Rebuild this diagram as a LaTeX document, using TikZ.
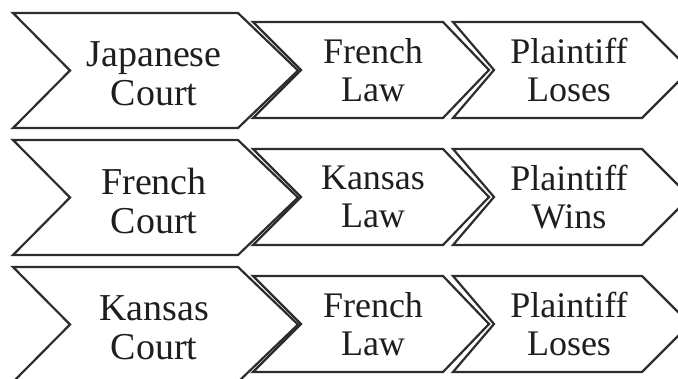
\documentclass[tikz,border=0pt]{standalone}
\usepackage{fontspec}
\setmainfont{Liberation Serif}
\usepackage{tikz}
\definecolor{dgrey}{RGB}{45,45,45}
\definecolor{tgrey}{RGB}{30,30,30}

\begin{document}
\begin{tikzpicture}[x=1pt,y=-1pt,line width=2.2pt,line join=miter]
      \tikzstyle{chevron}=[draw=dgrey,fill=white]
      \tikzstyle{bigtext}=[align=center,text=tgrey,inner sep=0pt,font=\fontsize{38}{39}\selectfont]
      \tikzstyle{smalltext}=[align=center,text=tgrey,inner sep=0pt,font=\fontsize{36}{38}\selectfont]

      \useasboundingbox (0,0) rectangle (678,378);
      \clip (0,0) rectangle (678,378);

      % row 1
      \draw[chevron] (253,22) -- (443,22) -- (489,70) -- (443,118) -- (253,118) -- (301,70) -- cycle;
      \draw[chevron] (453,22) -- (642,22) -- (690,70) -- (642,118) -- (453,118) -- (494,70) -- cycle;
      \draw[chevron] (13,13) -- (238,13) -- (298,70.5) -- (238,128) -- (13,128) -- (70,70.5) -- cycle;
      \node[bigtext]   (court1)  at (154,74) {Japanese\\Court};
      \node[smalltext] (law1)    at (373,70) {French\\Law};
      \node[smalltext] (result1) at (569,70) {Plaintiff\\Loses};

      % row 2
      \draw[chevron] (253,149) -- (443,149) -- (489,197) -- (443,245) -- (253,245) -- (301,197) -- cycle;
      \draw[chevron] (453,149) -- (642,149) -- (690,197) -- (642,245) -- (453,245) -- (494,197) -- cycle;
      \draw[chevron] (13,140) -- (238,140) -- (298,197.5) -- (238,255) -- (13,255) -- (70,197.5) -- cycle;
      \node[bigtext]   (court2)  at (154,201) {French\\Court};
      \node[smalltext] (law2)    at (373,197) {Kansas\\Law};
      \node[smalltext] (result2) at (569,197) {Plaintiff\\Wins};

      % row 3
      \draw[chevron] (253,276) -- (443,276) -- (489,324) -- (443,372) -- (253,372) -- (301,324) -- cycle;
      \draw[chevron] (453,276) -- (642,276) -- (690,324) -- (642,372) -- (453,372) -- (494,324) -- cycle;
      \draw[chevron] (13,267) -- (238,267) -- (298,324.5) -- (238,382) -- (13,382) -- (70,324.5) -- cycle;
      \node[bigtext]   (court3)  at (154,328) {Kansas\\Court};
      \node[smalltext] (law3)    at (373,324) {French\\Law};
      \node[smalltext] (result3) at (569,324) {Plaintiff\\Loses};
\end{tikzpicture}
\end{document}
